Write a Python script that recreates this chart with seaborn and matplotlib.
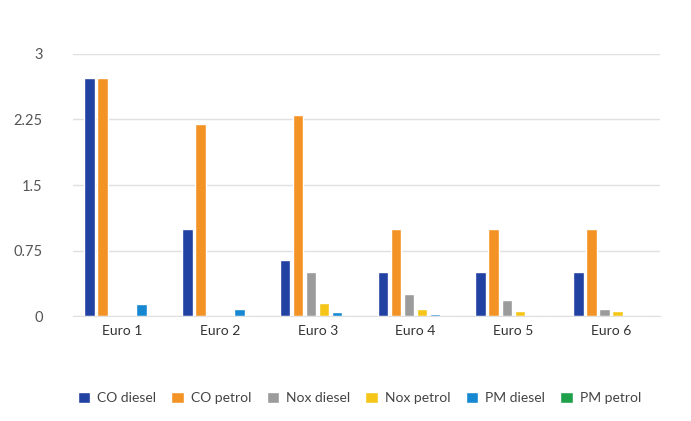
import matplotlib
matplotlib.use('Agg')
import matplotlib.pyplot as plt
import seaborn as sns
import pandas as pd

# Euro emission limits (g/km)
standards = ['Euro 1', 'Euro 2', 'Euro 3', 'Euro 4', 'Euro 5', 'Euro 6']
series = ['CO diesel', 'CO petrol', 'Nox diesel', 'Nox petrol', 'PM diesel', 'PM petrol']
co_diesel = [2.72, 1.0, 0.64, 0.5, 0.5, 0.5]
co_petrol = [2.72, 2.2, 2.3, 1.0, 1.0, 1.0]
nox_diesel = [0, 0, 0.5, 0.25, 0.18, 0.08]
nox_petrol = [0, 0, 0.15, 0.08, 0.06, 0.06]
pm_diesel = [0.14, 0.08, 0.05, 0.025, 0.005, 0.005]
pm_petrol = [0, 0, 0, 0, 0.005, 0.005]
yticks = [0, 0.75, 1.5, 2.25, 3]

colors = ['#2141a3', '#f39325', '#9b9b9b', '#f5c518', '#1688d2', '#1fa04b']

values = [co_diesel, co_petrol, nox_diesel, nox_petrol, pm_diesel, pm_petrol]
rows = []
for name, vals in zip(series, values):
    for std, v in zip(standards, vals):
        rows.append({'standard': std, 'pollutant': name, 'value': v})
df = pd.DataFrame(rows)

sns.set_style('white')
plt.rcParams['font.family'] = ['Lato', 'DejaVu Sans']

fig = plt.figure(figsize=(6.91, 4.21), dpi=100)
ax = fig.add_axes([0.106, 0.249, 0.849, 0.623])

sns.barplot(data=df, x='standard', y='value', hue='pollutant', hue_order=series,
            palette=colors, width=0.8, gap=0.2, saturation=1, errorbar=None, ax=ax)

ax.set_ylim(0, 3)
ax.set_yticks(yticks)
ax.set_yticklabels(['0', '0.75', '1.5', '2.25', '3'])
ax.set_xlim(-0.5, 5.5)
ax.yaxis.grid(True, color='#e0e0e0', linewidth=1)
ax.set_axisbelow(True)
for s in ['top', 'right', 'left']:
    ax.spines[s].set_visible(False)
ax.spines['bottom'].set_color('#e0e0e0')
ax.tick_params(axis='y', length=0, pad=22, labelsize=10.5, labelcolor='#555555')
ax.tick_params(axis='x', length=0, pad=6, labelsize=10, labelcolor='#333333')
ax.set_xlabel('')
ax.set_ylabel('')

handles, labels = ax.get_legend_handles_labels()
ax.legend_.remove()
fig.legend(handles, labels, loc='center', bbox_to_anchor=(0.52, 0.055), ncol=6,
           frameon=False, fontsize=10, handlelength=0.9, handleheight=0.9,
           handletextpad=0.5, columnspacing=1.1, labelcolor='#444444')

fig.savefig('out.png', dpi=100)
plt.close(fig)
